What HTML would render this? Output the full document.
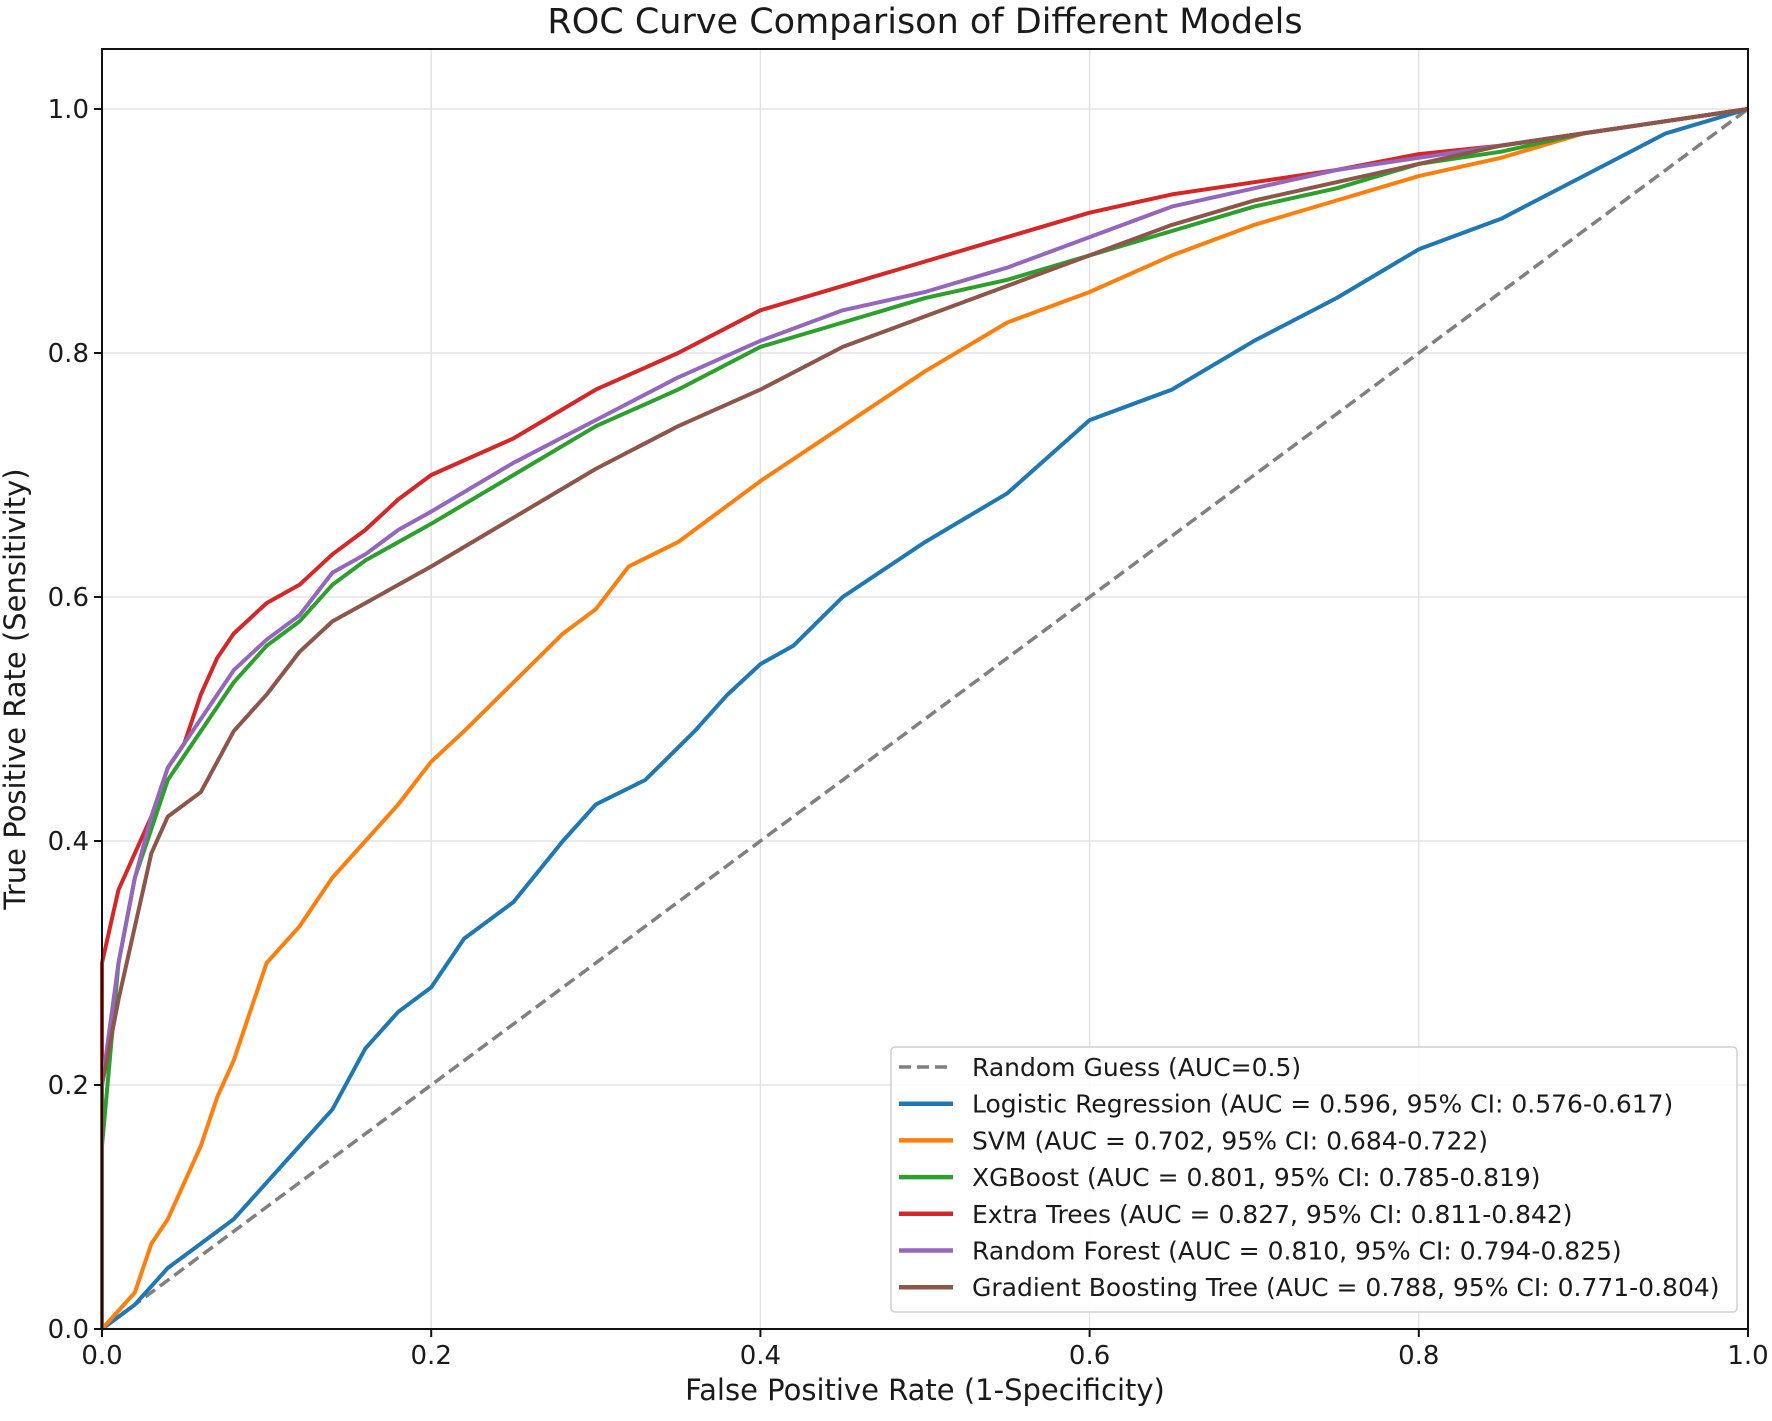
<!DOCTYPE html>
<html><head><meta charset="utf-8"><style>
html,body{margin:0;padding:0;background:#fff;}
svg text{font-family:"DejaVu Sans","Liberation Sans",sans-serif;fill:#1a1a1a;}
</style></head><body>
<svg id="chart" width="1772" height="1416" viewBox="0 0 1772 1416" xmlns="http://www.w3.org/2000/svg">
<rect width="1772" height="1416" fill="#fff"/>
<text x="925" y="33" font-size="35" text-anchor="middle">ROC Curve Comparison of Different Models</text>
<g id="grid"></g>
<g id="series"></g>
<rect x="102" y="49" width="1646" height="1280" fill="none" stroke="#111" stroke-width="2"/>
<g id="ticks"></g>
<text x="925" y="1400" font-size="29" text-anchor="middle">False Positive Rate (1-Specificity)</text>
<text x="0" y="0" font-size="29" text-anchor="middle" transform="translate(25,689) rotate(-90)">True Positive Rate (Sensitivity)</text>
<g id="legend"></g>
</svg>
<script>
const xTicks=[0,0.2,0.4,0.6,0.8,1.0];
const yTicks=[0,0.2,0.4,0.6,0.8,1.0];
const tickLabels=["0.0","0.2","0.4","0.6","0.8","1.0"];
const seriesNames=["Logistic Regression","SVM","XGBoost","Extra Trees","Random Forest","Gradient Boosting Tree"];
const aucVals=["0.596","0.702","0.801","0.827","0.810","0.788"];
const ciVals=["0.576-0.617","0.684-0.722","0.785-0.819","0.811-0.842","0.794-0.825","0.771-0.804"];
const colors=["#1f77b4","#ff7f0e","#2ca02c","#d62728","#9467bd","#8c564b"];
const lrFpr=[0,0.02,0.04,0.06,0.08,0.1,0.12,0.14,0.16,0.18,0.2,0.22,0.25,0.28,0.3,0.33,0.36,0.38,0.4,0.42,0.45,0.5,0.55,0.6,0.65,0.7,0.75,0.8,0.85,0.9,0.95,1];
const lrTpr=[0,0.02,0.05,0.07,0.09,0.12,0.15,0.18,0.23,0.26,0.28,0.32,0.35,0.40,0.43,0.45,0.49,0.52,0.545,0.56,0.60,0.645,0.685,0.745,0.77,0.81,0.845,0.885,0.91,0.945,0.98,1];
const svmFpr=[0,0.02,0.03,0.04,0.05,0.06,0.07,0.08,0.09,0.1,0.12,0.14,0.16,0.18,0.2,0.22,0.25,0.28,0.3,0.32,0.35,0.4,0.45,0.5,0.55,0.6,0.65,0.7,0.75,0.8,0.85,0.9,0.95,1];
const svmTpr=[0,0.03,0.07,0.09,0.12,0.15,0.19,0.22,0.26,0.30,0.33,0.37,0.40,0.43,0.465,0.49,0.53,0.57,0.59,0.625,0.645,0.695,0.74,0.785,0.825,0.85,0.88,0.905,0.925,0.945,0.96,0.98,0.99,1];
const xgbFpr=[0,0,0.01,0.02,0.03,0.04,0.06,0.08,0.1,0.12,0.14,0.16,0.18,0.2,0.25,0.3,0.35,0.4,0.45,0.5,0.55,0.6,0.65,0.7,0.75,0.8,0.85,0.9,0.95,1];
const xgbTpr=[0,0.15,0.30,0.37,0.41,0.45,0.49,0.53,0.56,0.58,0.61,0.63,0.645,0.66,0.70,0.74,0.77,0.805,0.825,0.845,0.86,0.88,0.90,0.92,0.935,0.955,0.965,0.98,0.99,1];
const etFpr=[0,0,0.005,0.01,0.02,0.03,0.04,0.05,0.06,0.07,0.08,0.1,0.12,0.14,0.16,0.18,0.2,0.25,0.3,0.35,0.4,0.45,0.5,0.55,0.6,0.65,0.7,0.75,0.8,0.85,0.9,0.95,1];
const etTpr=[0,0.30,0.33,0.36,0.39,0.42,0.46,0.48,0.52,0.55,0.57,0.595,0.61,0.635,0.655,0.68,0.70,0.73,0.77,0.80,0.835,0.855,0.875,0.895,0.915,0.93,0.94,0.95,0.963,0.97,0.98,0.99,1];
const rfFpr=[0,0,0.01,0.02,0.03,0.04,0.06,0.08,0.1,0.12,0.14,0.16,0.18,0.2,0.25,0.3,0.35,0.4,0.45,0.5,0.55,0.6,0.65,0.7,0.75,0.8,0.85,0.9,0.95,1];
const rfTpr=[0,0.2,0.30,0.37,0.42,0.46,0.50,0.54,0.565,0.585,0.62,0.635,0.655,0.67,0.71,0.745,0.78,0.81,0.835,0.85,0.87,0.895,0.92,0.935,0.95,0.96,0.97,0.98,0.99,1];
const gbtFpr=[0,0,0.01,0.02,0.03,0.04,0.06,0.08,0.1,0.12,0.14,0.16,0.18,0.2,0.25,0.3,0.35,0.4,0.45,0.5,0.55,0.6,0.65,0.7,0.75,0.8,0.85,0.9,0.95,1];
const gbtTpr=[0,0.2,0.27,0.33,0.39,0.42,0.44,0.49,0.52,0.555,0.58,0.595,0.61,0.625,0.665,0.705,0.74,0.77,0.805,0.83,0.855,0.88,0.905,0.925,0.94,0.955,0.97,0.98,0.99,1];
const randFpr=[0,1];
const randTpr=[0,1];

const NS="http://www.w3.org/2000/svg";
const X0=102,X1=1748,Y0=1329,Y1=109;
function sx(v){return X0+v*(X1-X0);}
function sy(v){return Y0-v*(Y0-Y1);}
function mk(tag,attrs,parent){const e=document.createElementNS(NS,tag);for(const k in attrs)e.setAttribute(k,attrs[k]);parent.appendChild(e);return e;}
const grid=document.getElementById('grid'),ticks=document.getElementById('ticks'),series=document.getElementById('series'),legend=document.getElementById('legend');
xTicks.forEach((t,i)=>{
  const g=mk('line',{x1:sx(t),x2:sx(t),y1:49,y2:Y0,stroke:'#e3e3e3','stroke-width':1.5},grid);
  
  
  const tk=mk('line',{x1:sx(t),x2:sx(t),y1:Y0,y2:Y0+8,stroke:'#111','stroke-width':2},ticks);
  
  
  const tl=mk('text',{x:sx(t),y:Y0+35,'font-size':26,'text-anchor':'middle'},ticks);
  tl.textContent=tickLabels[i];
  
  
});
yTicks.forEach((t,i)=>{
  const g=mk('line',{x1:X0,x2:X1,y1:sy(t),y2:sy(t),stroke:'#e3e3e3','stroke-width':1.5},grid);
  
  
  const tk=mk('line',{x1:X0-8,x2:X0,y1:sy(t),y2:sy(t),stroke:'#111','stroke-width':2},ticks);
  
  
  const tl=mk('text',{x:X0-13,y:sy(t)+9,'font-size':26,'text-anchor':'end'},ticks);
  tl.textContent=tickLabels[i];
  
  
});
function pts(f,t){return f.map((v,i)=>sx(v).toFixed(1)+','+sy(t[i]).toFixed(1)).join(' ');}
const rg=mk('polyline',{points:pts(randFpr,randTpr),fill:'none',stroke:'#808080','stroke-width':3.5,'stroke-dasharray':'12,6'},series);


const allF=[lrFpr,svmFpr,xgbFpr,etFpr,rfFpr,gbtFpr],allT=[lrTpr,svmTpr,xgbTpr,etTpr,rfTpr,gbtTpr];
const drawOrder=[0,1,2,3,4,5];
const slugs=["logistic-regression","svm","xgboost","extra-trees","random-forest","gradient-boosting-tree"];
drawOrder.forEach(i=>{
  const p=mk('polyline',{points:pts(allF[i],allT[i]),fill:'none',stroke:colors[i],'stroke-width':4,'stroke-linejoin':'round'},series);
  
  
});
const box=mk('rect',{x:891,y:1047,width:846,height:265,rx:4,fill:'#fff','fill-opacity':0.85,stroke:'#d0d0d0','stroke-width':1.5},legend);


const rowY=i=>1067+i*36.7;
const rh=mk('line',{x1:899,x2:953,y1:rowY(0),y2:rowY(0),stroke:'#808080','stroke-width':3.5,'stroke-dasharray':'12,6'},legend);


const rt=mk('text',{x:972,y:rowY(0)+9,'font-size':25},legend);
rt.textContent='Random Guess (AUC=0.5)';


seriesNames.forEach((n,i)=>{
  const y=rowY(i+1);
  const h=mk('line',{x1:899,x2:953,y1:y,y2:y,stroke:colors[i],'stroke-width':4.5},legend);
  
  
  const t=mk('text',{x:972,y:y+9,'font-size':25},legend);
  t.textContent=n+' (AUC = '+aucVals[i]+', 95% CI: '+ciVals[i]+')';
  
  
});
</script>
</body></html>
